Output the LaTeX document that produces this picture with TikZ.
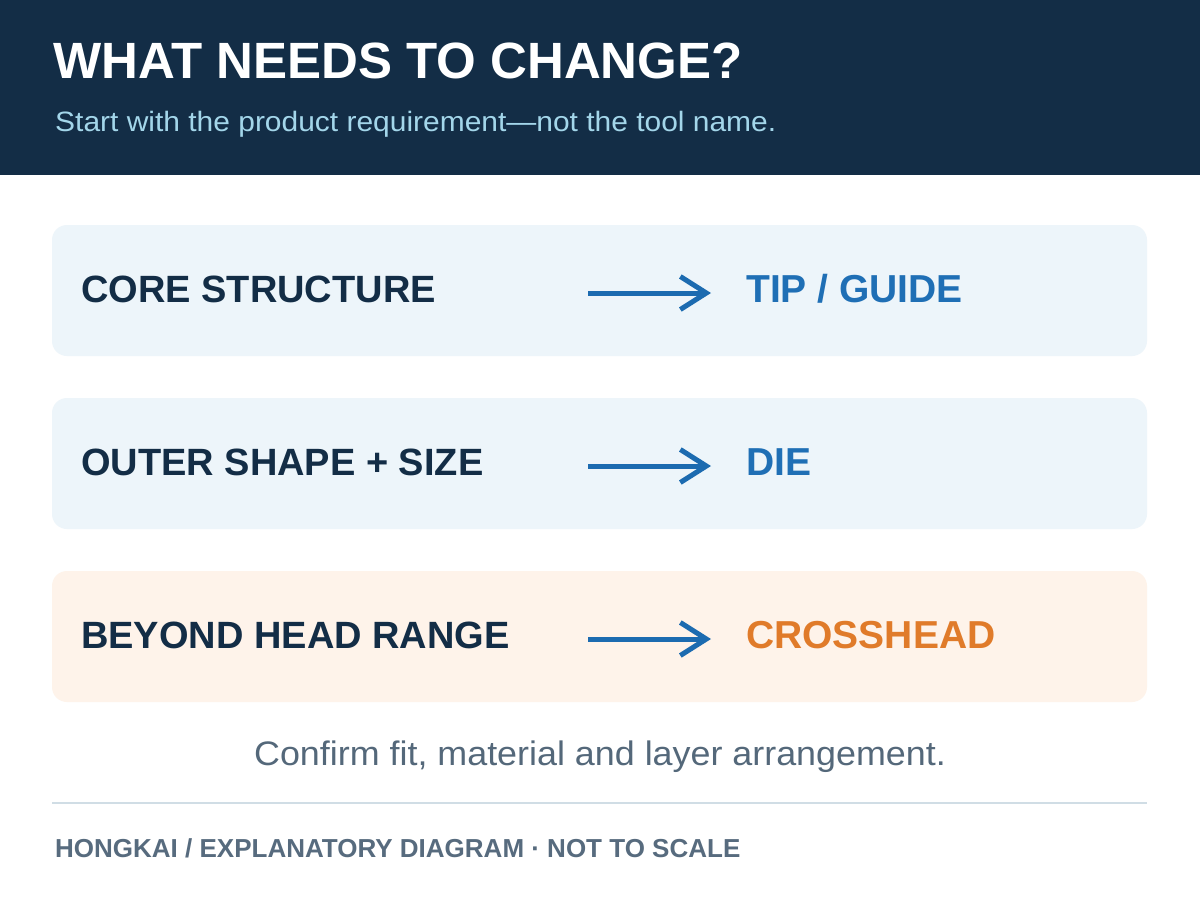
\documentclass[tikz,border=0pt]{standalone}
\usepackage{fontspec}
\setmainfont{Liberation Sans}
\usetikzlibrary{arrows.meta}
\definecolor{navy}{HTML}{132D46}
\definecolor{subblue}{HTML}{A3D6EA}
\definecolor{boxblue}{HTML}{EDF5FA}
\definecolor{boxorange}{HTML}{FEF3EA}
\definecolor{arrowblue}{HTML}{1C6BB0}
\definecolor{textblue}{HTML}{1F6FB5}
\definecolor{textorange}{HTML}{E07B2A}
\definecolor{captiongray}{HTML}{54687A}
\definecolor{rulegray}{HTML}{D0DDE5}
\definecolor{footgray}{HTML}{576B7E}
\tikzset{
  rowbox/.style={rounded corners=15pt, draw=none},
  lefttext/.style={anchor=base west, inner sep=0pt, font=\fontsize{38}{44}\selectfont\bfseries, text=navy},
  righttext/.style={anchor=base west, inner sep=0pt, font=\fontsize{39}{44}\selectfont\bfseries},
  flowarrow/.style={draw=arrowblue, line width=5pt, -{Straight Barb[length=26pt, width=33pt, line width=5pt]}},
}
\begin{document}
\begin{tikzpicture}[x=1pt, y=-1pt]
\useasboundingbox (0,0) rectangle (1200,900);
\fill[white] (0,0) rectangle (1200,900);
\fill[navy] (0,0) rectangle (1200,175);
\node[anchor=base west, inner sep=0pt, text=white, font=\fontsize{51}{60}\selectfont\bfseries] (title) at (53,78) {WHAT NEEDS TO CHANGE?};
\node[anchor=base west, inner sep=0pt, text=subblue, font=\fontsize{28}{32}\selectfont\addfontfeature{FakeStretch=1.07}] (sub) at (55,131) {Start with the product requirement—not the tool name.};

\fill[rowbox, boxblue] (52,225) rectangle (1147,356);
\fill[rowbox, boxblue] (52,398) rectangle (1147,529);
\fill[rowbox, boxorange] (52,571) rectangle (1147,702);

\node[lefttext] (l1) at (81,302) {CORE STRUCTURE};
\node[lefttext] (l2) at (81,475) {OUTER SHAPE + SIZE};
\node[lefttext] (l3) at (81,648) {BEYOND HEAD RANGE};

\coordinate (a1s) at (588,293); \coordinate (a1e) at (711,293);
\coordinate (a2s) at (588,466); \coordinate (a2e) at (711,466);
\coordinate (a3s) at (588,639); \coordinate (a3e) at (711,639);
\draw[flowarrow] (a1s) -- (a1e);
\draw[flowarrow] (a2s) -- (a2e);
\draw[flowarrow] (a3s) -- (a3e);

\node[righttext, text=textblue] (r1) at (746,302) {TIP / GUIDE};
\node[righttext, text=textblue] (r2) at (746,475) {DIE};
\node[righttext, text=textorange] (r3) at (746,648) {CROSSHEAD};

\node[anchor=base, inner sep=0pt, text=captiongray, font=\fontsize{34}{40}\selectfont\addfontfeature{FakeStretch=1.055}] (cap) at (600,765) {Confirm fit, material and layer arrangement.};
\draw[rulegray, line width=2pt] (52,803) -- (1147,803);
\node[anchor=base west, inner sep=0pt, text=footgray, font=\fontsize{26}{30}\selectfont\bfseries] (foot) at (55,857) {HONGKAI / EXPLANATORY DIAGRAM · NOT TO SCALE};
\end{tikzpicture}
\end{document}
